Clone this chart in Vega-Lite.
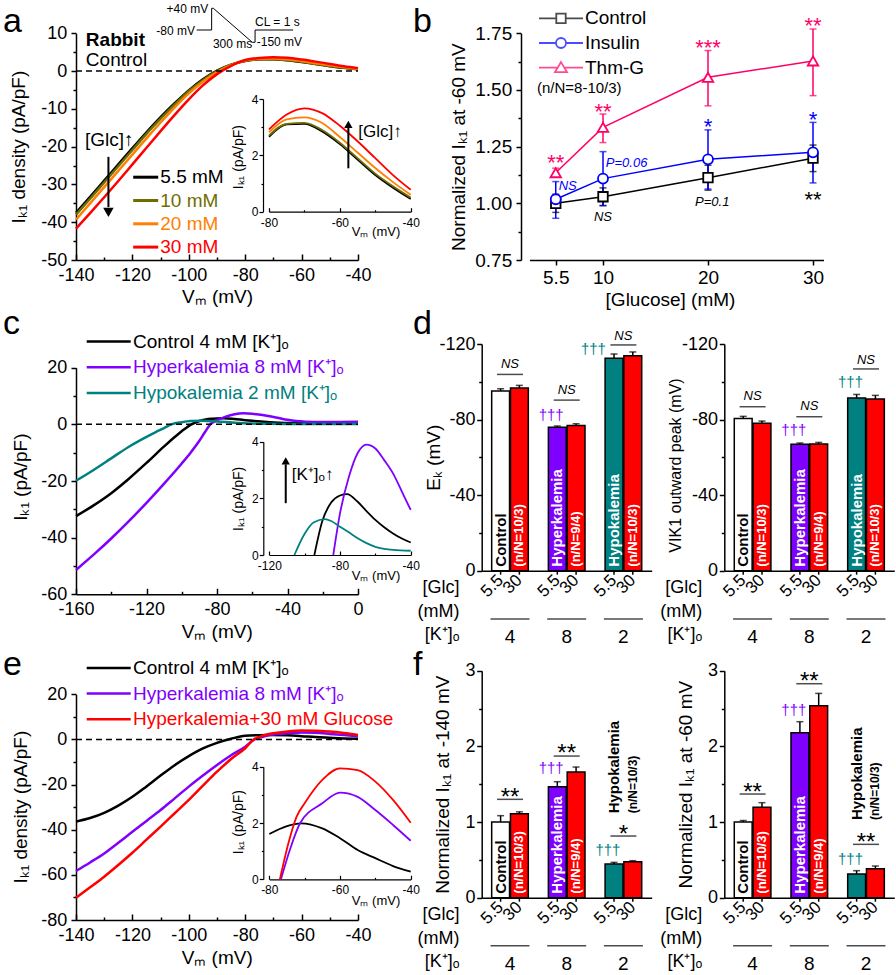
{
"$schema":"https://vega.github.io/schema/vega-lite/v6.json",
"width":896,"height":975,"autosize":{"type":"none"},"padding":0,
"background":"white",
"config":{"font":"Liberation Sans","view":{"stroke":null},
"axis":{"domainColor":"#000","domainWidth":1.5,"tickColor":"#000","tickWidth":1.5,"labelColor":"#000","titleColor":"#000","grid":false,"labelFont":"Liberation Sans","titleFont":"Liberation Sans","titleFontWeight":"normal","labelFontSize":19,"titleFontSize":19,"labelOverlap":false,"labelFlush":false,"labelBound":false},
"legend":{"labelFont":"Liberation Sans","padding":0},
"scale":{"nice":false},
"text":{"color":"#000"}},
"datasets":{
"a":[
{"V":-140,"I":-37.5,"g":"5.5 mM"},{"V":-135,"I":-33.3,"g":"5.5 mM"},{"V":-130,"I":-29.0,"g":"5.5 mM"},{"V":-125,"I":-24.7,"g":"5.5 mM"},{"V":-120,"I":-20.4,"g":"5.5 mM"},{"V":-115,"I":-16.2,"g":"5.5 mM"},{"V":-110,"I":-12.2,"g":"5.5 mM"},{"V":-105,"I":-8.5,"g":"5.5 mM"},{"V":-100,"I":-5.1,"g":"5.5 mM"},{"V":-95,"I":-2.2,"g":"5.5 mM"},{"V":-90,"I":0.1,"g":"5.5 mM"},{"V":-85,"I":1.7,"g":"5.5 mM"},{"V":-80,"I":2.66,"g":"5.5 mM"},{"V":-75,"I":3.1,"g":"5.5 mM"},{"V":-70,"I":3.12,"g":"5.5 mM"},{"V":-65,"I":2.85,"g":"5.5 mM"},{"V":-60,"I":2.4,"g":"5.5 mM"},{"V":-55,"I":1.85,"g":"5.5 mM"},{"V":-50,"I":1.3,"g":"5.5 mM"},{"V":-45,"I":0.85,"g":"5.5 mM"},{"V":-40,"I":0.45,"g":"5.5 mM"},
{"V":-140,"I":-38.0,"g":"10 mM"},{"V":-135,"I":-33.8,"g":"10 mM"},{"V":-130,"I":-29.5,"g":"10 mM"},{"V":-125,"I":-25.2,"g":"10 mM"},{"V":-120,"I":-20.9,"g":"10 mM"},{"V":-115,"I":-16.6,"g":"10 mM"},{"V":-110,"I":-12.6,"g":"10 mM"},{"V":-105,"I":-8.8,"g":"10 mM"},{"V":-100,"I":-5.3,"g":"10 mM"},{"V":-95,"I":-2.4,"g":"10 mM"},{"V":-90,"I":0.0,"g":"10 mM"},{"V":-85,"I":1.7,"g":"10 mM"},{"V":-80,"I":2.7,"g":"10 mM"},{"V":-75,"I":3.12,"g":"10 mM"},{"V":-70,"I":3.15,"g":"10 mM"},{"V":-65,"I":2.9,"g":"10 mM"},{"V":-60,"I":2.45,"g":"10 mM"},{"V":-55,"I":1.9,"g":"10 mM"},{"V":-50,"I":1.35,"g":"10 mM"},{"V":-45,"I":0.9,"g":"10 mM"},{"V":-40,"I":0.5,"g":"10 mM"},
{"V":-140,"I":-39.3,"g":"20 mM"},{"V":-135,"I":-35.0,"g":"20 mM"},{"V":-130,"I":-30.7,"g":"20 mM"},{"V":-125,"I":-26.4,"g":"20 mM"},{"V":-120,"I":-22.1,"g":"20 mM"},{"V":-115,"I":-17.8,"g":"20 mM"},{"V":-110,"I":-13.6,"g":"20 mM"},{"V":-105,"I":-9.6,"g":"20 mM"},{"V":-100,"I":-5.9,"g":"20 mM"},{"V":-95,"I":-2.8,"g":"20 mM"},{"V":-90,"I":-0.3,"g":"20 mM"},{"V":-85,"I":1.6,"g":"20 mM"},{"V":-80,"I":2.82,"g":"20 mM"},{"V":-75,"I":3.28,"g":"20 mM"},{"V":-70,"I":3.35,"g":"20 mM"},{"V":-65,"I":3.15,"g":"20 mM"},{"V":-60,"I":2.65,"g":"20 mM"},{"V":-55,"I":2.1,"g":"20 mM"},{"V":-50,"I":1.55,"g":"20 mM"},{"V":-45,"I":1.05,"g":"20 mM"},{"V":-40,"I":0.6,"g":"20 mM"},
{"V":-140,"I":-41.7,"g":"30 mM"},{"V":-135,"I":-37.6,"g":"30 mM"},{"V":-130,"I":-33.4,"g":"30 mM"},{"V":-125,"I":-29.1,"g":"30 mM"},{"V":-120,"I":-24.7,"g":"30 mM"},{"V":-115,"I":-20.3,"g":"30 mM"},{"V":-110,"I":-15.9,"g":"30 mM"},{"V":-105,"I":-11.6,"g":"30 mM"},{"V":-100,"I":-7.5,"g":"30 mM"},{"V":-95,"I":-3.8,"g":"30 mM"},{"V":-90,"I":-0.8,"g":"30 mM"},{"V":-85,"I":1.4,"g":"30 mM"},{"V":-80,"I":2.92,"g":"30 mM"},{"V":-75,"I":3.45,"g":"30 mM"},{"V":-70,"I":3.67,"g":"30 mM"},{"V":-65,"I":3.5,"g":"30 mM"},{"V":-60,"I":3.05,"g":"30 mM"},{"V":-55,"I":2.5,"g":"30 mM"},{"V":-50,"I":1.9,"g":"30 mM"},{"V":-45,"I":1.3,"g":"30 mM"},{"V":-40,"I":0.78,"g":"30 mM"}],
"wave":[{"i":0,"x":-97.2,"y":10.87},{"i":1,"x":-91.9,"y":10.87},{"i":2,"x":-91.9,"y":16.62},{"i":3,"x":-91.3,"y":16.62},{"i":4,"x":-77.5,"y":7.62},{"i":5,"x":-76.5,"y":7.62},{"i":6,"x":-76.5,"y":10.87},{"i":7,"x":-63.0,"y":10.87}],
"b":[
{"g":5.5,"s":"Control","m":1.0,"lo":0.96,"hi":1.04},{"g":10,"s":"Control","m":1.029,"lo":0.99,"hi":1.068},{"g":20,"s":"Control","m":1.113,"lo":1.058,"hi":1.168},{"g":30,"s":"Control","m":1.199,"lo":1.14,"hi":1.257},
{"g":5.5,"s":"Insulin","m":1.018,"lo":0.934,"hi":1.096},{"g":10,"s":"Insulin","m":1.109,"lo":0.99,"hi":1.228},{"g":20,"s":"Insulin","m":1.194,"lo":1.063,"hi":1.324},{"g":30,"s":"Insulin","m":1.225,"lo":1.09,"hi":1.357},
{"g":5.5,"s":"Thm-G","m":1.135,"lo":1.115,"hi":1.155},{"g":10,"s":"Thm-G","m":1.335,"lo":1.268,"hi":1.394},{"g":20,"s":"Thm-G","m":1.556,"lo":1.43,"hi":1.674},{"g":30,"s":"Thm-G","m":1.628,"lo":1.475,"hi":1.769}],
"bstar":[{"x":5.5,"y":1.205,"t":"**","s":"Thm-G"},{"x":10,"y":1.43,"t":"**","s":"Thm-G"},{"x":20,"y":1.71,"t":"***","s":"Thm-G"},{"x":30,"y":1.81,"t":"**","s":"Thm-G"},{"x":20,"y":1.365,"t":"*","s":"Insulin"},{"x":30,"y":1.395,"t":"*","s":"Insulin"},{"x":30,"y":1.04,"t":"**","s":"Control"}],
"bital":[{"x":6.64,"y":1.078,"t":"NS","s":"Insulin"},{"x":12.25,"y":1.176,"t":"P=0.06","s":"Insulin"},{"x":10,"y":0.941,"t":"NS","s":"Control"},{"x":20.4,"y":1.004,"t":"P=0.1","s":"Control"}],
"c":[
{"V":-160,"I":-32.4,"k":"Control"},{"V":-150,"I":-28.6,"k":"Control"},{"V":-140,"I":-24.3,"k":"Control"},{"V":-130,"I":-19.2,"k":"Control"},{"V":-120,"I":-13.6,"k":"Control"},{"V":-110,"I":-7.8,"k":"Control"},{"V":-105,"I":-5.0,"k":"Control"},{"V":-100,"I":-2.4,"k":"Control"},{"V":-94.5,"I":0,"k":"Control"},{"V":-90,"I":1.2,"k":"Control"},{"V":-85,"I":1.85,"k":"Control"},{"V":-80,"I":2.1,"k":"Control"},{"V":-76,"I":2.15,"k":"Control"},{"V":-70,"I":1.88,"k":"Control"},{"V":-65,"I":1.55,"k":"Control"},{"V":-60,"I":1.24,"k":"Control"},{"V":-55,"I":0.98,"k":"Control"},{"V":-50,"I":0.76,"k":"Control"},{"V":-45,"I":0.58,"k":"Control"},{"V":-40,"I":0.44,"k":"Control"},{"V":-30,"I":0.35,"k":"Control"},{"V":-20,"I":0.3,"k":"Control"},{"V":-10,"I":0.3,"k":"Control"},{"V":0,"I":0.3,"k":"Control"},
{"V":-160,"I":-51.4,"k":"Hyperkalemia"},{"V":-150,"I":-46.0,"k":"Hyperkalemia"},{"V":-140,"I":-40.3,"k":"Hyperkalemia"},{"V":-130,"I":-34.2,"k":"Hyperkalemia"},{"V":-120,"I":-27.7,"k":"Hyperkalemia"},{"V":-110,"I":-20.9,"k":"Hyperkalemia"},{"V":-100,"I":-13.8,"k":"Hyperkalemia"},{"V":-95,"I":-10.0,"k":"Hyperkalemia"},{"V":-90,"I":-5.8,"k":"Hyperkalemia"},{"V":-87,"I":-2.9,"k":"Hyperkalemia"},{"V":-83.8,"I":0,"k":"Hyperkalemia"},{"V":-80,"I":1.47,"k":"Hyperkalemia"},{"V":-75,"I":2.75,"k":"Hyperkalemia"},{"V":-70,"I":3.6,"k":"Hyperkalemia"},{"V":-65,"I":3.9,"k":"Hyperkalemia"},{"V":-60,"I":3.76,"k":"Hyperkalemia"},{"V":-55,"I":3.35,"k":"Hyperkalemia"},{"V":-50,"I":2.88,"k":"Hyperkalemia"},{"V":-45,"I":2.24,"k":"Hyperkalemia"},{"V":-40,"I":1.59,"k":"Hyperkalemia"},{"V":-35,"I":1.15,"k":"Hyperkalemia"},{"V":-30,"I":0.95,"k":"Hyperkalemia"},{"V":-20,"I":0.85,"k":"Hyperkalemia"},{"V":-10,"I":0.85,"k":"Hyperkalemia"},{"V":0,"I":0.9,"k":"Hyperkalemia"},
{"V":-160,"I":-19.9,"k":"Hypokalemia"},{"V":-150,"I":-16.1,"k":"Hypokalemia"},{"V":-140,"I":-12.0,"k":"Hypokalemia"},{"V":-130,"I":-7.9,"k":"Hypokalemia"},{"V":-120,"I":-4.4,"k":"Hypokalemia"},{"V":-115,"I":-2.8,"k":"Hypokalemia"},{"V":-110,"I":-1.3,"k":"Hypokalemia"},{"V":-105.8,"I":0,"k":"Hypokalemia"},{"V":-100,"I":0.75,"k":"Hypokalemia"},{"V":-95,"I":1.15,"k":"Hypokalemia"},{"V":-88.5,"I":1.27,"k":"Hypokalemia"},{"V":-85,"I":1.2,"k":"Hypokalemia"},{"V":-80,"I":1.0,"k":"Hypokalemia"},{"V":-75,"I":0.8,"k":"Hypokalemia"},{"V":-70,"I":0.59,"k":"Hypokalemia"},{"V":-65,"I":0.42,"k":"Hypokalemia"},{"V":-60,"I":0.29,"k":"Hypokalemia"},{"V":-55,"I":0.22,"k":"Hypokalemia"},{"V":-50,"I":0.18,"k":"Hypokalemia"},{"V":-40,"I":0.15,"k":"Hypokalemia"},{"V":-30,"I":0.15,"k":"Hypokalemia"},{"V":-20,"I":0.15,"k":"Hypokalemia"},{"V":-10,"I":0.15,"k":"Hypokalemia"},{"V":0,"I":0.15,"k":"Hypokalemia"}],
"e":[
{"V":-140,"I":-36.4,"k":"Control"},{"V":-135,"I":-34.8,"k":"Control"},{"V":-130,"I":-32.5,"k":"Control"},{"V":-125,"I":-29.3,"k":"Control"},{"V":-120,"I":-25.4,"k":"Control"},{"V":-115,"I":-20.8,"k":"Control"},{"V":-110,"I":-16.0,"k":"Control"},{"V":-105,"I":-11.4,"k":"Control"},{"V":-100,"I":-7.4,"k":"Control"},{"V":-95,"I":-4.0,"k":"Control"},{"V":-90,"I":-1.5,"k":"Control"},{"V":-85,"I":0.3,"k":"Control"},{"V":-80,"I":1.61,"k":"Control"},{"V":-75,"I":1.89,"k":"Control"},{"V":-71,"I":1.99,"k":"Control"},{"V":-65,"I":1.81,"k":"Control"},{"V":-60,"I":1.46,"k":"Control"},{"V":-55,"I":1.04,"k":"Control"},{"V":-50,"I":0.75,"k":"Control"},{"V":-45,"I":0.47,"k":"Control"},{"V":-40,"I":0.27,"k":"Control"},
{"V":-140,"I":-58.3,"k":"Hyperkalemia"},{"V":-135,"I":-54.5,"k":"Hyperkalemia"},{"V":-130,"I":-50.5,"k":"Hyperkalemia"},{"V":-125,"I":-45.8,"k":"Hyperkalemia"},{"V":-120,"I":-40.9,"k":"Hyperkalemia"},{"V":-115,"I":-36.1,"k":"Hyperkalemia"},{"V":-110,"I":-31.3,"k":"Hyperkalemia"},{"V":-105,"I":-26.1,"k":"Hyperkalemia"},{"V":-100,"I":-20.9,"k":"Hyperkalemia"},{"V":-95,"I":-16.0,"k":"Hyperkalemia"},{"V":-90,"I":-11.3,"k":"Hyperkalemia"},{"V":-85,"I":-7.0,"k":"Hyperkalemia"},{"V":-80,"I":-3.2,"k":"Hyperkalemia"},{"V":-76.7,"I":0,"k":"Hyperkalemia"},{"V":-74.2,"I":1.04,"k":"Hyperkalemia"},{"V":-71.3,"I":1.99,"k":"Hyperkalemia"},{"V":-65,"I":2.7,"k":"Hyperkalemia"},{"V":-60,"I":3.08,"k":"Hyperkalemia"},{"V":-55,"I":2.93,"k":"Hyperkalemia"},{"V":-50,"I":2.46,"k":"Hyperkalemia"},{"V":-45,"I":1.93,"k":"Hyperkalemia"},{"V":-40,"I":1.37,"k":"Hyperkalemia"},
{"V":-140,"I":-70.1,"k":"Hyperkalemia+30 mM Glucose"},{"V":-135,"I":-65.5,"k":"Hyperkalemia+30 mM Glucose"},{"V":-130,"I":-60.8,"k":"Hyperkalemia+30 mM Glucose"},{"V":-125,"I":-55.6,"k":"Hyperkalemia+30 mM Glucose"},{"V":-120,"I":-50.2,"k":"Hyperkalemia+30 mM Glucose"},{"V":-115,"I":-44.4,"k":"Hyperkalemia+30 mM Glucose"},{"V":-110,"I":-38.6,"k":"Hyperkalemia+30 mM Glucose"},{"V":-105,"I":-32.7,"k":"Hyperkalemia+30 mM Glucose"},{"V":-100,"I":-26.8,"k":"Hyperkalemia+30 mM Glucose"},{"V":-95,"I":-20.5,"k":"Hyperkalemia+30 mM Glucose"},{"V":-90,"I":-14.3,"k":"Hyperkalemia+30 mM Glucose"},{"V":-85,"I":-8.7,"k":"Hyperkalemia+30 mM Glucose"},{"V":-80,"I":-3.9,"k":"Hyperkalemia+30 mM Glucose"},{"V":-77,"I":0,"k":"Hyperkalemia+30 mM Glucose"},{"V":-74.6,"I":1.28,"k":"Hyperkalemia+30 mM Glucose"},{"V":-72.3,"I":2.22,"k":"Hyperkalemia+30 mM Glucose"},{"V":-70,"I":2.7,"k":"Hyperkalemia+30 mM Glucose"},{"V":-65,"I":3.53,"k":"Hyperkalemia+30 mM Glucose"},{"V":-60,"I":3.94,"k":"Hyperkalemia+30 mM Glucose"},{"V":-55,"I":3.88,"k":"Hyperkalemia+30 mM Glucose"},{"V":-50,"I":3.47,"k":"Hyperkalemia+30 mM Glucose"},{"V":-45,"I":2.82,"k":"Hyperkalemia+30 mM Glucose"},{"V":-40,"I":2.01,"k":"Hyperkalemia+30 mM Glucose"}],
"d1":[{"K":"4","glc":"5.5","v":-95.1,"cap":-96.3,"lab":"Control"},{"K":"4","glc":"30","v":-96.7,"cap":-98.1,"lab":"(n/N=10/3)"},{"K":"8","glc":"5.5","v":-75.9,"cap":-76.6,"lab":"Hyperkalemia"},{"K":"8","glc":"30","v":-76.9,"cap":-77.8,"lab":"(n/N=9/4)"},{"K":"2","glc":"5.5","v":-112.4,"cap":-114.7,"lab":"Hypokalemia"},{"K":"2","glc":"30","v":-113.8,"cap":-115.8,"lab":"(n/N=10/3)"}],
"d2":[{"K":"4","glc":"5.5","v":-80.5,"cap":-81.7,"lab":"Control"},{"K":"4","glc":"30","v":-78.0,"cap":-79.2,"lab":"(n/N=10/3)"},{"K":"8","glc":"5.5","v":-66.9,"cap":-67.6,"lab":"Hyperkalemia"},{"K":"8","glc":"30","v":-67.1,"cap":-67.9,"lab":"(n/N=9/4)"},{"K":"2","glc":"5.5","v":-91.4,"cap":-93.3,"lab":"Hypokalemia"},{"K":"2","glc":"30","v":-90.9,"cap":-92.8,"lab":"(n/N=10/3)"}],
"f1":[{"K":"4","glc":"5.5","v":1.0,"cap":1.084,"lab":"Control"},{"K":"4","glc":"30","v":1.11,"cap":1.135,"lab":"(n/N=10/3)"},{"K":"8","glc":"5.5","v":1.467,"cap":1.533,"lab":"Hyperkalemia"},{"K":"8","glc":"30","v":1.661,"cap":1.727,"lab":"(n/N=9/4)"},{"K":"2","glc":"5.5","v":0.445,"cap":0.467,"lab":""},{"K":"2","glc":"30","v":0.476,"cap":0.489,"lab":""}],
"f2":[{"K":"4","glc":"5.5","v":1.0,"cap":1.02,"lab":"Control"},{"K":"4","glc":"30","v":1.194,"cap":1.256,"lab":"(n/N=10/3)"},{"K":"8","glc":"5.5","v":2.18,"cap":2.326,"lab":"Hyperkalemia"},{"K":"8","glc":"30","v":2.537,"cap":2.70,"lab":"(n/N=9/4)"},{"K":"2","glc":"5.5","v":0.313,"cap":0.357,"lab":""},{"K":"2","glc":"30","v":0.383,"cap":0.419,"lab":""}],
"fh":[{"K":"2","glc":"5.5","lab":"Hypokalemia"},{"K":"2","glc":"30","lab":"(n/N=10/3)"}],
"grp":[{"K":"4"},{"K":"8"},{"K":"2"}],
"d1n":[{"K":"4","by":-103.9,"ty":-109.2,"t":"NS"},{"K":"8","by":-90.3,"ty":-95.6,"t":"NS"},{"K":"2","by":-119.5,"ty":-124.2,"t":"NS"}],
"d2n":[{"K":"4","by":-86.8,"ty":-92.5,"t":"NS"},{"K":"8","by":-81.5,"ty":-87.2,"t":"NS"},{"K":"2","by":-106.8,"ty":-111.5,"t":"NS"}],
"f1n":[{"K":"4","by":1.30,"ty":1.40,"t":"**"},{"K":"8","by":1.872,"ty":1.98,"t":"**"},{"K":"2","by":0.815,"ty":0.907,"t":"*"}],
"f2n":[{"K":"4","by":1.37,"ty":1.467,"t":"**"},{"K":"8","by":2.828,"ty":2.93,"t":"**"},{"K":"2","by":0.705,"ty":0.806,"t":"**"}],
"d1g":[{"K":"8","y":-82.4}],
"d1gt":[{"K":"2","y":-117.2}],
"d2g":[{"K":"8","y":-74.5},{"K":"2","y":-100}],
"f1g":[{"K":"8","y":1.709},{"K":"2","y":0.63}],
"f2g":[{"K":"8","y":2.48},{"K":"2","y":0.507}]
},
"resolve":{"scale":{"x":"independent","y":"independent","color":"independent","fill":"independent","stroke":"independent","shape":"independent","size":"independent","xOffset":"independent"},"axis":{"x":"independent","y":"independent"}},
"layer":[
 {"resolve":{"scale":{"x":"independent","y":"independent"},"axis":{"x":"independent","y":"independent"}},
  "layer":[
   {"layer":[
    {"data":{"name":"a"},"mark":{"type":"line","strokeWidth":2.5,"interpolate":"monotone"},
     "encoding":{
      "x":{"field":"V","type":"quantitative","scale":{"domain":[-140,-40],"range":[76,358],"nice":false},"axis":{"orient":"bottom","offset":-715,"values":[-140,-130,-120,-110,-100,-90,-80,-70,-60,-50,-40],"labelExpr":"datum.value % 20 === 0 ? '' + datum.value : ''","tickSize":{"condition":{"test":"datum.value % 20 !== 0","value":-3},"value":-6},"labelFontSize":18,"labelPadding":21,"labelBaseline":"middle","title":"Vₘ (mV)","titleX":217,"titleY":36.5,"titleBaseline":"middle"}},
      "y":{"field":"I","type":"quantitative","scale":{"domain":[-50,10],"range":[260,33.3],"nice":false},"axis":{"orient":"left","offset":-76,"values":[-50,-45,-40,-35,-30,-25,-20,-15,-10,-5,0,5,10],"labelExpr":"datum.value % 10 === 0 ? '' + datum.value : ''","tickSize":{"condition":{"test":"datum.value % 10 !== 0","value":3},"value":5},"labelFontSize":18,"labelPadding":4.3,"title":"Iₖ₁ density (pA/pF)","titleX":-58,"titleY":146.6,"titleBaseline":"middle"}},
      "color":{"field":"g","type":"nominal","scale":{"domain":["5.5 mM","10 mM","20 mM","30 mM"],"range":["#000000","#6e6e00","#ff8000","#ff0000"]},
       "legend":{"title":null,"orient":"none","legendX":134.2,"legendY":165.7,"symbolType":"M-1.25,0H1.25","symbolSize":400,"symbolStrokeWidth":3,"labelFontSize":19,"labelOffset":3.1,"rowPadding":1.3,"padding":0,
        "encode":{"labels":{"update":{"fill":{"signal":"datum.value === '10 mM' ? '#6e6e00' : datum.value === '20 mM' ? '#ff8000' : datum.value === '30 mM' ? '#ff0000' : '#000000'"}}}}}}
     }},
    {"data":{"values":[{}]},"mark":{"type":"rule","strokeDash":[6,4],"strokeWidth":1.5,"color":"#000"},"encoding":{"x":{"datum":-140},"x2":{"datum":-40},"y":{"datum":0}}},
    {"data":{"name":"wave"},"mark":{"type":"line","strokeWidth":1,"color":"#000","interpolate":"linear"},"encoding":{"x":{"field":"x","type":"quantitative"},"y":{"field":"y","type":"quantitative"},"order":{"field":"i"}}},
    {"data":{"values":[{"x":-93.1,"y":16.43,"t":"+40 mV"},{"x":-97.8,"y":10.69,"t":"-80 mV"},{"x":-77.5,"y":7.09,"t":"300 ms"}]},"mark":{"type":"text","align":"right","baseline":"middle","fontSize":12},"encoding":{"x":{"field":"x","type":"quantitative"},"y":{"field":"y","type":"quantitative"},"text":{"field":"t"}}},
    {"data":{"values":[{"x":-75.9,"y":7.6,"t":"-150 mV"},{"x":-76.5,"y":13.07,"t":"CL = 1 s"}]},"mark":{"type":"text","align":"left","baseline":"middle","fontSize":12},"encoding":{"x":{"field":"x","type":"quantitative"},"y":{"field":"y","type":"quantitative"},"text":{"field":"t"}}},
    {"data":{"values":[{"x":-136.5,"y":8.2,"t":"Rabbit"}]},"mark":{"type":"text","align":"left","baseline":"middle","fontSize":19,"fontWeight":"bold"},"encoding":{"x":{"field":"x","type":"quantitative"},"y":{"field":"y","type":"quantitative"},"text":{"field":"t"}}},
    {"data":{"values":[{"x":-136.5,"y":2.93,"t":"Control"},{"x":-136.8,"y":-18.2,"t":"[Glc]↑"}]},"mark":{"type":"text","align":"left","baseline":"middle","fontSize":19},"encoding":{"x":{"field":"x","type":"quantitative"},"y":{"field":"y","type":"quantitative"},"text":{"field":"t"}}},
    {"data":{"values":[{}]},"mark":{"type":"rule","strokeWidth":2,"color":"#000"},"encoding":{"x":{"datum":-128.5},"y":{"datum":-22.7},"y2":{"datum":-36}}},
    {"data":{"values":[{}]},"mark":{"type":"point","shape":"triangle-down","filled":true,"color":"#000","size":110,"opacity":1},"encoding":{"x":{"datum":-128.5},"y":{"datum":-37.4}}},
    {"data":{"values":[{"x":-165.9,"y":10.45,"t":"a"},{"x":-20.5,"y":10.45,"t":"b"}]},"mark":{"type":"text","align":"left","baseline":"alphabetic","fontSize":34},"encoding":{"x":{"field":"x","type":"quantitative"},"y":{"field":"y","type":"quantitative"},"text":{"field":"t"}}}
   ]},
   {"layer":[
    {"data":{"name":"a"},"transform":[{"filter":"datum.V >= -80"}],"mark":{"type":"line","strokeWidth":1.8,"interpolate":"monotone"},
     "encoding":{
      "x":{"field":"V","type":"quantitative","scale":{"domain":[-80,-40],"range":[269,410.7],"nice":false},"axis":{"orient":"bottom","offset":-763.3,"values":[-80,-70,-60,-50,-40],"labelExpr":"datum.value % 20 === 0 ? '' + datum.value : ''","tickSize":{"condition":{"test":"datum.value % 20 !== 0","value":-2},"value":-4},"labelFontSize":12,"labelPadding":14.4,"labelBaseline":"middle","domainWidth":1.2,"tickWidth":1.2,"title":"Vₘ (mV)","titleFontSize":13,"titleX":375.5,"titleY":20,"titleBaseline":"middle"}},
      "y":{"field":"I","type":"quantitative","scale":{"domain":[0,4],"range":[211.7,99],"nice":false},"axis":{"orient":"left","offset":-263,"values":[0,1,2,3,4],"labelExpr":"datum.value % 2 === 0 ? '' + datum.value : ''","tickSize":{"condition":{"test":"datum.value % 2 !== 0","value":2},"value":4},"labelFontSize":12,"labelPadding":1,"domainWidth":1.2,"tickWidth":1.2,"title":"Iₖ₁ (pA/pF)","titleFontSize":14,"titleX":-25,"titleY":156.7,"titleBaseline":"middle"}},
      "color":{"field":"g","type":"nominal","legend":null}
     }},
    {"data":{"values":[{}]},"mark":{"type":"rule","strokeWidth":2,"color":"#000"},"encoding":{"x":{"datum":-57.6},"y":{"datum":1.54},"y2":{"datum":3.0}}},
    {"data":{"values":[{}]},"mark":{"type":"point","shape":"triangle-up","filled":true,"color":"#000","size":70,"opacity":1},"encoding":{"x":{"datum":-57.6},"y":{"datum":3.1}}},
    {"data":{"values":[{"x":-54.8,"y":2.84,"t":"[Glc]↑"}]},"mark":{"type":"text","align":"left","baseline":"middle","fontSize":17},"encoding":{"x":{"field":"x","type":"quantitative"},"y":{"field":"y","type":"quantitative"},"text":{"field":"t"}}}
   ]}
  ]},
 {"resolve":{"scale":{"stroke":"independent","shape":"independent"}},
  "layer":[
   {"data":{"name":"b"},"layer":[
    {"mark":{"type":"line","strokeWidth":1.5},"encoding":{
     "x":{"field":"g","type":"quantitative","scale":{"domain":[3,31],"range":[529.5,823.5],"nice":false,"zero":false},"axis":{"orient":"bottom","offset":-715,"values":[5.5,10,20,30],"labelExpr":"'' + datum.value","tickSize":5,"labelPadding":12.1,"labelBaseline":"middle","title":"[Glucose] (mM)","titleX":670,"titleY":39.3,"titleBaseline":"middle"}},
     "y":{"field":"m","type":"quantitative","scale":{"domain":[0.75,1.75],"range":[260,33.3],"nice":false,"zero":false},"axis":{"orient":"left","offset":-521,"values":[0.75,0.875,1,1.125,1.25,1.375,1.5,1.625,1.75],"labelExpr":"(datum.value * 4) % 1 === 0 ? format(datum.value, '.2f') : ''","tickSize":{"condition":{"test":"(datum.value * 4) % 1 !== 0","value":3},"value":5},"labelPadding":4.3,"title":"Normalized Iₖ₁ at -60 mV","titleX":-62.7,"titleY":146.6,"titleBaseline":"middle"}},
     "stroke":{"field":"s","type":"nominal","scale":{"domain":["Control","Insulin","Thm-G"],"range":["#000000","#0000ff","#ff0066"]},"legend":null}}},
    {"mark":{"type":"rule","strokeWidth":1.5},"encoding":{"x":{"field":"g","type":"quantitative"},"y":{"field":"lo","type":"quantitative"},"y2":{"field":"hi"},"stroke":{"field":"s","type":"nominal","legend":null}}},
    {"mark":{"type":"tick","orient":"horizontal","size":7,"thickness":1.5},"encoding":{"x":{"field":"g","type":"quantitative"},"y":{"field":"lo","type":"quantitative"},"color":{"field":"s","type":"nominal","scale":{"domain":["Control","Insulin","Thm-G"],"range":["#000000","#0000ff","#ff0066"]},"legend":null}}},
    {"mark":{"type":"tick","orient":"horizontal","size":7,"thickness":1.5},"encoding":{"x":{"field":"g","type":"quantitative"},"y":{"field":"hi","type":"quantitative"},"color":{"field":"s","type":"nominal","legend":null}}},
    {"mark":{"type":"point","filled":true,"fill":"white","strokeWidth":1.8,"opacity":1},"encoding":{"x":{"field":"g","type":"quantitative"},"y":{"field":"m","type":"quantitative"},"stroke":{"field":"s","type":"nominal","legend":null},
     "shape":{"field":"s","type":"nominal","scale":{"domain":["Control","Insulin","Thm-G"],"range":["square","circle","triangle-up"]},"legend":null},
     "size":{"field":"s","type":"nominal","scale":{"domain":["Control","Insulin","Thm-G"],"range":[90,110,160]},"legend":null}}}
   ]},
   {"data":{"name":"bstar"},"mark":{"type":"text","fontSize":22,"baseline":"middle","dy":6},"encoding":{"x":{"field":"x","type":"quantitative"},"y":{"field":"y","type":"quantitative"},"text":{"field":"t"},"color":{"field":"s","type":"nominal","legend":null}}},
   {"data":{"name":"bital"},"mark":{"type":"text","fontSize":13,"fontStyle":"italic","baseline":"middle"},"encoding":{"x":{"field":"x","type":"quantitative"},"y":{"field":"y","type":"quantitative"},"text":{"field":"t"},"color":{"field":"s","type":"nominal","legend":null}}},
   {"data":{"values":[{"x":3.71,"y":1.509,"t":"(n/N=8-10/3)"}]},"mark":{"type":"text","fontSize":15,"align":"left","baseline":"middle","color":"#000"},"encoding":{"x":{"field":"x","type":"quantitative"},"y":{"field":"y","type":"quantitative"},"text":{"field":"t"}}},
   {"data":{"values":[]},"mark":{"type":"point","filled":false,"strokeWidth":1.8},"encoding":{
    "stroke":{"field":"s","type":"nominal","scale":{"domain":["Control","Insulin","Thm-G"],"range":["#000000","#0000ff","#ff0066"]},
     "legend":{"title":null,"orient":"none","legendX":550,"legendY":7.4,"symbolSize":400,"symbolStrokeWidth":1.8,"labelFontSize":19,"labelOffset":13,"rowPadding":3.6,"padding":0,
      "encode":{"labels":{"update":{"fill":{"signal":"datum.value === 'Insulin' ? '#0000ff' : datum.value === 'Thm-G' ? '#ff0066' : '#000000'"}}}}}},
    "shape":{"field":"s","type":"nominal","scale":{"domain":["Control","Insulin","Thm-G"],"range":["M-2.2,0H-0.47M0.47,0H2.2M-0.47,-0.47H0.47V0.47H-0.47Z","M-2.2,0H-0.5M0.5,0H2.2M0.5,0A0.5,0.5,0,1,1,-0.5,0A0.5,0.5,0,1,1,0.5,0Z","M-2.2,0H-0.33M0.33,0H2.2M0,-0.55L0.6,0.45L-0.6,0.45Z"]},
     "legend":{"title":null,"orient":"none","legendX":550,"legendY":7.4,"symbolSize":400,"symbolStrokeWidth":1.8,"labelFontSize":19,"labelOffset":13,"rowPadding":3.6,"padding":0}}
   }}
  ]},
 {"resolve":{"scale":{"x":"independent","y":"independent"},"axis":{"x":"independent","y":"independent"}},
  "layer":[
   {"layer":[
    {"data":{"name":"c"},"mark":{"type":"line","strokeWidth":2.5,"interpolate":"monotone"},
     "encoding":{
      "x":{"field":"V","type":"quantitative","scale":{"domain":[-160,0],"range":[76,358],"nice":false},"axis":{"orient":"bottom","offset":-380.7,"values":[-160,-140,-120,-100,-80,-60,-40,-20,0],"labelExpr":"datum.value % 40 === 0 ? '' + datum.value : ''","tickSize":{"condition":{"test":"datum.value % 40 !== 0","value":-3},"value":-6},"labelFontSize":18,"labelPadding":21,"labelBaseline":"middle","title":"Vₘ (mV)","titleX":216.7,"titleY":37.5,"titleBaseline":"middle"}},
      "y":{"field":"I","type":"quantitative","scale":{"domain":[-60,20],"range":[594.3,367.7],"nice":false},"axis":{"orient":"left","offset":-76,"values":[-60,-50,-40,-30,-20,-10,0,10,20],"labelExpr":"datum.value % 20 === 0 ? '' + datum.value : ''","tickSize":{"condition":{"test":"datum.value % 20 !== 0","value":3},"value":5},"labelFontSize":18,"labelPadding":4.3,"title":"Iₖ₁ (pA/pF)","titleX":-56,"titleY":476.7,"titleBaseline":"middle"}},
      "color":{"field":"k","type":"nominal","scale":{"domain":["Control","Hyperkalemia","Hypokalemia"],"range":["#000000","#7f00ff","#008080"]},
       "legend":{"title":null,"orient":"none","legendX":97.2,"legendY":330,"symbolType":"M-2.2,0H2.2","symbolSize":400,"symbolStrokeWidth":2.5,"labelFontSize":19,"labelOffset":12.8,"rowPadding":3.7,"padding":0,"labelLimit":400,
        "labelExpr":"datum.value === 'Control' ? 'Control  4 mM [K⁺]ₒ' : datum.value === 'Hyperkalemia' ? 'Hyperkalemia  8 mM [K⁺]ₒ' : 'Hypokalemia  2 mM [K⁺]ₒ'",
        "encode":{"labels":{"update":{"fill":{"signal":"datum.value === 'Hyperkalemia' ? '#7f00ff' : datum.value === 'Hypokalemia' ? '#008080' : '#000000'"}}}}}}
     }},
    {"data":{"values":[{}]},"mark":{"type":"rule","strokeDash":[6,4],"strokeWidth":1.5,"color":"#000"},"encoding":{"x":{"datum":-160},"x2":{"datum":0},"y":{"datum":0}}},
    {"data":{"values":[{"x":-201.4,"y":31.9,"t":"c"},{"x":31.2,"y":31.9,"t":"d"}]},"mark":{"type":"text","align":"left","baseline":"alphabetic","fontSize":34},"encoding":{"x":{"field":"x","type":"quantitative"},"y":{"field":"y","type":"quantitative"},"text":{"field":"t"}}}
   ]},
   {"layer":[
    {"data":{"name":"c"},"transform":[{"filter":"datum.V >= -120 && datum.V <= -40 && datum.I >= 0"}],"mark":{"type":"line","strokeWidth":1.8,"interpolate":"monotone"},
     "encoding":{
      "x":{"field":"V","type":"quantitative","scale":{"domain":[-120,-40],"range":[269.3,410.7],"nice":false},"axis":{"orient":"bottom","offset":-420,"values":[-120,-100,-80,-60,-40],"labelExpr":"datum.value % 40 === 0 ? '' + datum.value : ''","tickSize":{"condition":{"test":"datum.value % 40 !== 0","value":-2},"value":-4},"labelFontSize":12,"labelPadding":14.4,"labelBaseline":"middle","domainWidth":1.2,"tickWidth":1.2,"title":"Vₘ (mV)","titleFontSize":13,"titleX":375.5,"titleY":20,"titleBaseline":"middle"}},
      "y":{"field":"I","type":"quantitative","scale":{"domain":[0,4],"range":[555,441.7],"nice":false},"axis":{"orient":"left","offset":-263.3,"values":[0,1,2,3,4],"labelExpr":"datum.value % 2 === 0 ? '' + datum.value : ''","tickSize":{"condition":{"test":"datum.value % 2 !== 0","value":2},"value":4},"labelFontSize":12,"labelPadding":1,"domainWidth":1.2,"tickWidth":1.2,"title":"Iₖ₁ (pA/pF)","titleFontSize":14,"titleX":-25,"titleY":498.3,"titleBaseline":"middle"}},
      "color":{"field":"k","type":"nominal","legend":null}
     }},
    {"data":{"values":[{}]},"mark":{"type":"rule","strokeWidth":2,"color":"#000"},"encoding":{"x":{"datum":-110.7},"y":{"datum":1.83},"y2":{"datum":3.2}}},
    {"data":{"values":[{}]},"mark":{"type":"point","shape":"triangle-up","filled":true,"color":"#000","size":70,"opacity":1},"encoding":{"x":{"datum":-110.7},"y":{"datum":3.32}}},
    {"data":{"values":[{"x":-107.3,"y":2.83,"t":"[K⁺]ₒ↑"}]},"mark":{"type":"text","align":"left","baseline":"middle","fontSize":17},"encoding":{"x":{"field":"x","type":"quantitative"},"y":{"field":"y","type":"quantitative"},"text":{"field":"t"}}}
   ]}
  ]},
 {"resolve":{"scale":{"x":"independent","y":"independent"},"axis":{"x":"independent","y":"independent"}},
  "layer":[
   {"layer":[
    {"data":{"name":"e"},"mark":{"type":"line","strokeWidth":2.5,"interpolate":"monotone"},
     "encoding":{
      "x":{"field":"V","type":"quantitative","scale":{"domain":[-140,-40],"range":[76,358],"nice":false},"axis":{"orient":"bottom","offset":-55,"values":[-140,-130,-120,-110,-100,-90,-80,-70,-60,-50,-40],"labelExpr":"datum.value % 20 === 0 ? '' + datum.value : ''","tickSize":{"condition":{"test":"datum.value % 20 !== 0","value":-3},"value":-6},"labelFontSize":18,"labelPadding":21,"labelBaseline":"middle","title":"Vₘ (mV)","titleX":216.7,"titleY":37.5,"titleBaseline":"middle"}},
      "y":{"field":"I","type":"quantitative","scale":{"domain":[-80,20],"range":[920,694.3],"nice":false},"axis":{"orient":"left","offset":-76,"values":[-80,-70,-60,-50,-40,-30,-20,-10,0,10,20],"labelExpr":"datum.value % 20 === 0 ? '' + datum.value : ''","tickSize":{"condition":{"test":"datum.value % 20 !== 0","value":3},"value":5},"labelFontSize":18,"labelPadding":4.3,"title":"Iₖ₁ density (pA/pF)","titleX":-56,"titleY":806.7,"titleBaseline":"middle"}},
      "color":{"field":"k","type":"nominal","scale":{"domain":["Control","Hyperkalemia","Hyperkalemia+30 mM Glucose"],"range":["#000000","#7f00ff","#ff0000"]},
       "legend":{"title":null,"orient":"none","legendX":97.2,"legendY":656.4,"symbolType":"M-2.2,0H2.2","symbolSize":400,"symbolStrokeWidth":2.5,"labelFontSize":19,"labelOffset":12.8,"rowPadding":3.7,"padding":0,"labelLimit":400,
        "labelExpr":"datum.value === 'Control' ? 'Control  4 mM [K⁺]ₒ' : datum.value === 'Hyperkalemia' ? 'Hyperkalemia  8 mM [K⁺]ₒ' : datum.label",
        "encode":{"labels":{"update":{"fill":{"signal":"datum.value === 'Hyperkalemia' ? '#7f00ff' : datum.value === 'Control' ? '#000000' : '#ff0000'"}}}}}}
     }},
    {"data":{"values":[{}]},"mark":{"type":"rule","strokeDash":[6,4],"strokeWidth":1.5,"color":"#000"},"encoding":{"x":{"datum":-140},"x2":{"datum":-40},"y":{"datum":0}}},
    {"data":{"values":[{"x":-165.9,"y":28.55,"t":"e"},{"x":-20.5,"y":28.55,"t":"f"}]},"mark":{"type":"text","align":"left","baseline":"alphabetic","fontSize":34},"encoding":{"x":{"field":"x","type":"quantitative"},"y":{"field":"y","type":"quantitative"},"text":{"field":"t"}}}
   ]},
   {"layer":[
    {"data":{"name":"e"},"transform":[{"filter":"datum.V >= -80 && datum.I >= 0"}],"mark":{"type":"line","strokeWidth":1.8,"interpolate":"monotone"},
     "encoding":{
      "x":{"field":"V","type":"quantitative","scale":{"domain":[-80,-40],"range":[269.3,410.7],"nice":false},"axis":{"orient":"bottom","offset":-95.7,"values":[-80,-70,-60,-50,-40],"labelExpr":"datum.value % 20 === 0 ? '' + datum.value : ''","tickSize":{"condition":{"test":"datum.value % 20 !== 0","value":-2},"value":-4},"labelFontSize":12,"labelPadding":14.4,"labelBaseline":"middle","domainWidth":1.2,"tickWidth":1.2,"title":"Vₘ (mV)","titleFontSize":13,"titleX":375.5,"titleY":20.7,"titleBaseline":"middle"}},
      "y":{"field":"I","type":"quantitative","scale":{"domain":[0,4],"range":[879.3,766.7],"nice":false},"axis":{"orient":"left","offset":-263.3,"values":[0,1,2,3,4],"labelExpr":"datum.value % 2 === 0 ? '' + datum.value : ''","tickSize":{"condition":{"test":"datum.value % 2 !== 0","value":2},"value":4},"labelFontSize":12,"labelPadding":1,"domainWidth":1.2,"tickWidth":1.2,"title":"Iₖ₁ (pA/pF)","titleFontSize":14,"titleX":-25,"titleY":821.7,"titleBaseline":"middle"}},
      "color":{"field":"k","type":"nominal","legend":null}
     }}
   ]}
  ]},
 {"data":{"name":"d1"},
  "layer":[
   {"mark":{"type":"bar","stroke":"#000","strokeWidth":1.5},"encoding":{
    "x":{"field":"K","type":"nominal","sort":null,"scale":{"domain":["4","8","2"],"range":[481.7,651.7],"paddingInner":0.354,"paddingOuter":0.176},"axis":{"orient":"bottom","offset":-404.3,"labelAngle":0,"ticks":false,"labelPadding":65.4,"labelBaseline":"middle","labelFontSize":19,"title":["[Glc]","(mM)","[K⁺]ₒ"],"titleFontSize":18,"titleX":459.1,"titleY":8,"titleAlign":"right","titleBaseline":"top","titleLineHeight":23.5}},
    "xOffset":{"field":"glc","type":"nominal","sort":null,"scale":{"domain":["5.5","30"],"paddingInner":0.05,"paddingOuter":0}},
    "y":{"field":"v","type":"quantitative","scale":{"domain":[0,-120],"range":[570.7,344],"nice":false},"axis":{"orient":"left","offset":-481.7,"values":[0,-20,-40,-60,-80,-100,-120],"labelExpr":"datum.value % 40 === 0 ? '' + datum.value : ''","tickSize":{"condition":{"test":"datum.value % 40 !== 0","value":3},"value":5},"labelPadding":1.7,"labelFontSize":18,"title":"Eₖ (mV)","titleX":-48.7,"titleY":457.3,"titleBaseline":"middle"}},
    "fill":{"condition":{"test":"datum.glc === '30'","value":"#ff0000"},"field":"K","type":"nominal","scale":{"domain":["4","8","2"],"range":["#ffffff","#7f00ff","#008080"]},"legend":null}}},
   {"mark":{"type":"rule","strokeWidth":1.5,"color":"#000"},"encoding":{"x":{"field":"K","type":"nominal"},"xOffset":{"field":"glc","type":"nominal"},"y":{"field":"v","type":"quantitative"},"y2":{"field":"cap"}}},
   {"mark":{"type":"tick","size":7,"thickness":1.5,"color":"#000"},"encoding":{"x":{"field":"K","type":"nominal"},"xOffset":{"field":"glc","type":"nominal"},"y":{"field":"cap","type":"quantitative"}}},
   {"mark":{"type":"text","angle":270,"align":"left","baseline":"middle","dx":4,"fontWeight":"bold"},"encoding":{"x":{"field":"K","type":"nominal"},"xOffset":{"field":"glc","type":"nominal"},"y":{"datum":0},"text":{"field":"lab"},"size":{"condition":{"test":"indexof(datum.lab, 'n/N') >= 0","value":13},"value":15},"color":{"condition":{"test":"datum.lab === 'Control'","value":"#000000"},"value":"#ffffff"}}},
   {"mark":{"type":"text","angle":315,"align":"right","baseline":"middle","fontSize":17},"encoding":{"x":{"field":"K","type":"nominal"},"xOffset":{"field":"glc","type":"nominal"},"y":{"datum":3.7},"text":{"field":"glc"}}},
   {"mark":{"type":"rule","strokeWidth":1.5,"color":"#000"},"encoding":{"x":{"field":"K","type":"nominal"},"xOffset":{"field":"glc","type":"nominal"},"y":{"datum":0},"y2":{"datum":2.1}}},
   {"data":{"name":"grp"},"mark":{"type":"tick","size":39,"thickness":1.5,"color":"#000"},"encoding":{"x":{"field":"K","type":"nominal"},"y":{"datum":25.6}}},
   {"data":{"name":"d1n"},"mark":{"type":"tick","size":26,"thickness":1.5,"color":"#000"},"encoding":{"x":{"field":"K","type":"nominal"},"y":{"field":"by","type":"quantitative"}}},
   {"data":{"name":"d1n"},"mark":{"type":"text","fontSize":13,"fontStyle":"italic","baseline":"middle"},"encoding":{"x":{"field":"K","type":"nominal"},"y":{"field":"ty","type":"quantitative"},"text":{"field":"t"}}},
   {"data":{"name":"d1g"},"mark":{"type":"text","fontSize":15,"baseline":"middle","dx":-15.5},"encoding":{"x":{"field":"K","type":"nominal"},"y":{"field":"y","type":"quantitative"},"text":{"value":"†††"},"color":{"condition":{"test":"datum.K === '8'","value":"#7f00ff"},"value":"#008080"}}},
   {"data":{"name":"d1gt"},"mark":{"type":"text","fontSize":15,"baseline":"middle","dx":-30},"encoding":{"x":{"field":"K","type":"nominal"},"y":{"field":"y","type":"quantitative"},"text":{"value":"†††"},"color":{"condition":{"test":"datum.K === '8'","value":"#7f00ff"},"value":"#008080"}}}
  ]},
 {"data":{"name":"d2"},
  "layer":[
   {"mark":{"type":"bar","stroke":"#000","strokeWidth":1.5},"encoding":{
    "x":{"field":"K","type":"nominal","sort":null,"scale":{"domain":["4","8","2"],"range":[724.3,894.3],"paddingInner":0.354,"paddingOuter":0.176},"axis":{"orient":"bottom","offset":-404.3,"labelAngle":0,"ticks":false,"labelPadding":65.4,"labelBaseline":"middle","labelFontSize":19,"title":["[Glc]","(mM)","[K⁺]ₒ"],"titleFontSize":18,"titleX":701.7,"titleY":8,"titleAlign":"right","titleBaseline":"top","titleLineHeight":23.5}},
    "xOffset":{"field":"glc","type":"nominal","sort":null,"scale":{"domain":["5.5","30"],"paddingInner":0.05,"paddingOuter":0}},
    "y":{"field":"v","type":"quantitative","scale":{"domain":[0,-120],"range":[570.7,344],"nice":false},"axis":{"orient":"left","offset":-724.3,"values":[0,-20,-40,-60,-80,-100,-120],"labelExpr":"datum.value % 40 === 0 ? '' + datum.value : ''","tickSize":{"condition":{"test":"datum.value % 40 !== 0","value":3},"value":5},"labelPadding":1.7,"labelFontSize":18,"title":"VIK1 outward peak (mV)","titleFontSize":16,"titleX":-49.3,"titleY":465,"titleBaseline":"middle"}},
    "fill":{"condition":{"test":"datum.glc === '30'","value":"#ff0000"},"field":"K","type":"nominal","scale":{"domain":["4","8","2"],"range":["#ffffff","#7f00ff","#008080"]},"legend":null}}},
   {"mark":{"type":"rule","strokeWidth":1.5,"color":"#000"},"encoding":{"x":{"field":"K","type":"nominal"},"xOffset":{"field":"glc","type":"nominal"},"y":{"field":"v","type":"quantitative"},"y2":{"field":"cap"}}},
   {"mark":{"type":"tick","size":7,"thickness":1.5,"color":"#000"},"encoding":{"x":{"field":"K","type":"nominal"},"xOffset":{"field":"glc","type":"nominal"},"y":{"field":"cap","type":"quantitative"}}},
   {"mark":{"type":"text","angle":270,"align":"left","baseline":"middle","dx":4,"fontWeight":"bold"},"encoding":{"x":{"field":"K","type":"nominal"},"xOffset":{"field":"glc","type":"nominal"},"y":{"datum":0},"text":{"field":"lab"},"size":{"condition":{"test":"indexof(datum.lab, 'n/N') >= 0","value":13},"value":15},"color":{"condition":{"test":"datum.lab === 'Control'","value":"#000000"},"value":"#ffffff"}}},
   {"mark":{"type":"text","angle":315,"align":"right","baseline":"middle","fontSize":17},"encoding":{"x":{"field":"K","type":"nominal"},"xOffset":{"field":"glc","type":"nominal"},"y":{"datum":3.7},"text":{"field":"glc"}}},
   {"mark":{"type":"rule","strokeWidth":1.5,"color":"#000"},"encoding":{"x":{"field":"K","type":"nominal"},"xOffset":{"field":"glc","type":"nominal"},"y":{"datum":0},"y2":{"datum":2.1}}},
   {"data":{"name":"grp"},"mark":{"type":"tick","size":39,"thickness":1.5,"color":"#000"},"encoding":{"x":{"field":"K","type":"nominal"},"y":{"datum":25.6}}},
   {"data":{"name":"d2n"},"mark":{"type":"tick","size":26,"thickness":1.5,"color":"#000"},"encoding":{"x":{"field":"K","type":"nominal"},"y":{"field":"by","type":"quantitative"}}},
   {"data":{"name":"d2n"},"mark":{"type":"text","fontSize":13,"fontStyle":"italic","baseline":"middle"},"encoding":{"x":{"field":"K","type":"nominal"},"y":{"field":"ty","type":"quantitative"},"text":{"field":"t"}}},
   {"data":{"name":"d2g"},"mark":{"type":"text","fontSize":15,"baseline":"middle","dx":-15.5},"encoding":{"x":{"field":"K","type":"nominal"},"y":{"field":"y","type":"quantitative"},"text":{"value":"†††"},"color":{"condition":{"test":"datum.K === '8'","value":"#7f00ff"},"value":"#008080"}}}
  ]},
 {"data":{"name":"f1"},
  "layer":[
   {"mark":{"type":"bar","stroke":"#000","strokeWidth":1.5},"encoding":{
    "x":{"field":"K","type":"nominal","sort":null,"scale":{"domain":["4","8","2"],"range":[481.7,651.7],"paddingInner":0.354,"paddingOuter":0.176},"axis":{"orient":"bottom","offset":-77.3,"labelAngle":0,"ticks":false,"labelPadding":65.4,"labelBaseline":"middle","labelFontSize":19,"title":["[Glc]","(mM)","[K⁺]ₒ"],"titleFontSize":18,"titleX":459.1,"titleY":8,"titleAlign":"right","titleBaseline":"top","titleLineHeight":23.5}},
    "xOffset":{"field":"glc","type":"nominal","sort":null,"scale":{"domain":["5.5","30"],"paddingInner":0.05,"paddingOuter":0}},
    "y":{"field":"v","type":"quantitative","scale":{"domain":[0,3],"range":[897.7,670.7],"nice":false},"axis":{"orient":"left","offset":-481.7,"values":[0,0.5,1,1.5,2,2.5,3],"labelExpr":"datum.value % 1 === 0 ? '' + datum.value : ''","tickSize":{"condition":{"test":"datum.value % 1 !== 0","value":3},"value":5},"labelPadding":1.7,"labelFontSize":18,"title":"Normalized Iₖ₁ at -140 mV","titleX":-39,"titleY":784.2,"titleBaseline":"middle"}},
    "fill":{"condition":{"test":"datum.glc === '30'","value":"#ff0000"},"field":"K","type":"nominal","scale":{"domain":["4","8","2"],"range":["#ffffff","#7f00ff","#008080"]},"legend":null}}},
   {"mark":{"type":"rule","strokeWidth":1.5,"color":"#000"},"encoding":{"x":{"field":"K","type":"nominal"},"xOffset":{"field":"glc","type":"nominal"},"y":{"field":"v","type":"quantitative"},"y2":{"field":"cap"}}},
   {"mark":{"type":"tick","size":7,"thickness":1.5,"color":"#000"},"encoding":{"x":{"field":"K","type":"nominal"},"xOffset":{"field":"glc","type":"nominal"},"y":{"field":"cap","type":"quantitative"}}},
   {"transform":[{"filter":"datum.lab !== ''"}],"mark":{"type":"text","angle":270,"align":"left","baseline":"middle","dx":4,"fontWeight":"bold"},"encoding":{"x":{"field":"K","type":"nominal"},"xOffset":{"field":"glc","type":"nominal"},"y":{"datum":0},"text":{"field":"lab"},"size":{"condition":{"test":"indexof(datum.lab, 'n/N') >= 0","value":13},"value":15},"color":{"condition":{"test":"datum.lab === 'Control'","value":"#000000"},"value":"#ffffff"}}},
   {"data":{"name":"fh"},"mark":{"type":"text","angle":270,"align":"left","baseline":"middle","fontWeight":"bold","color":"#000"},"encoding":{"x":{"field":"K","type":"nominal"},"xOffset":{"field":"glc","type":"nominal"},"y":{"datum":1.115},"text":{"field":"lab"},"size":{"condition":{"test":"indexof(datum.lab, 'n/N') >= 0","value":12},"value":15}}},
   {"mark":{"type":"text","angle":315,"align":"right","baseline":"middle","fontSize":17},"encoding":{"x":{"field":"K","type":"nominal"},"xOffset":{"field":"glc","type":"nominal"},"y":{"datum":-0.0925},"text":{"field":"glc"}}},
   {"mark":{"type":"rule","strokeWidth":1.5,"color":"#000"},"encoding":{"x":{"field":"K","type":"nominal"},"xOffset":{"field":"glc","type":"nominal"},"y":{"datum":0},"y2":{"datum":-0.053}}},
   {"data":{"name":"grp"},"mark":{"type":"tick","size":39,"thickness":1.5,"color":"#000"},"encoding":{"x":{"field":"K","type":"nominal"},"y":{"datum":-0.634}}},
   {"data":{"name":"f1n"},"mark":{"type":"tick","size":26,"thickness":1.5,"color":"#000"},"encoding":{"x":{"field":"K","type":"nominal"},"y":{"field":"by","type":"quantitative"}}},
   {"data":{"name":"f1n"},"mark":{"type":"text","fontSize":24,"baseline":"middle","dy":6},"encoding":{"x":{"field":"K","type":"nominal"},"y":{"field":"ty","type":"quantitative"},"text":{"field":"t"}}},
   {"data":{"name":"f1g"},"mark":{"type":"text","fontSize":15,"baseline":"middle","dx":-15.5},"encoding":{"x":{"field":"K","type":"nominal"},"y":{"field":"y","type":"quantitative"},"text":{"value":"†††"},"color":{"condition":{"test":"datum.K === '8'","value":"#7f00ff"},"value":"#008080"}}}
  ]},
 {"data":{"name":"f2"},
  "layer":[
   {"mark":{"type":"bar","stroke":"#000","strokeWidth":1.5},"encoding":{
    "x":{"field":"K","type":"nominal","sort":null,"scale":{"domain":["4","8","2"],"range":[724.3,894.3],"paddingInner":0.354,"paddingOuter":0.176},"axis":{"orient":"bottom","offset":-77.3,"labelAngle":0,"ticks":false,"labelPadding":65.4,"labelBaseline":"middle","labelFontSize":19,"title":["[Glc]","(mM)","[K⁺]ₒ"],"titleFontSize":18,"titleX":701.7,"titleY":8,"titleAlign":"right","titleBaseline":"top","titleLineHeight":23.5}},
    "xOffset":{"field":"glc","type":"nominal","sort":null,"scale":{"domain":["5.5","30"],"paddingInner":0.05,"paddingOuter":0}},
    "y":{"field":"v","type":"quantitative","scale":{"domain":[0,3],"range":[897.7,670.7],"nice":false},"axis":{"orient":"left","offset":-724.3,"values":[0,0.5,1,1.5,2,2.5,3],"labelExpr":"datum.value % 1 === 0 ? '' + datum.value : ''","tickSize":{"condition":{"test":"datum.value % 1 !== 0","value":3},"value":5},"labelPadding":1.7,"labelFontSize":18,"title":"Normalized Iₖ₁ at -60 mV","titleX":-39.3,"titleY":784.2,"titleBaseline":"middle"}},
    "fill":{"condition":{"test":"datum.glc === '30'","value":"#ff0000"},"field":"K","type":"nominal","scale":{"domain":["4","8","2"],"range":["#ffffff","#7f00ff","#008080"]},"legend":null}}},
   {"mark":{"type":"rule","strokeWidth":1.5,"color":"#000"},"encoding":{"x":{"field":"K","type":"nominal"},"xOffset":{"field":"glc","type":"nominal"},"y":{"field":"v","type":"quantitative"},"y2":{"field":"cap"}}},
   {"mark":{"type":"tick","size":7,"thickness":1.5,"color":"#000"},"encoding":{"x":{"field":"K","type":"nominal"},"xOffset":{"field":"glc","type":"nominal"},"y":{"field":"cap","type":"quantitative"}}},
   {"transform":[{"filter":"datum.lab !== ''"}],"mark":{"type":"text","angle":270,"align":"left","baseline":"middle","dx":4,"fontWeight":"bold"},"encoding":{"x":{"field":"K","type":"nominal"},"xOffset":{"field":"glc","type":"nominal"},"y":{"datum":0},"text":{"field":"lab"},"size":{"condition":{"test":"indexof(datum.lab, 'n/N') >= 0","value":13},"value":15},"color":{"condition":{"test":"datum.lab === 'Control'","value":"#000000"},"value":"#ffffff"}}},
   {"data":{"name":"fh"},"mark":{"type":"text","angle":270,"align":"left","baseline":"middle","fontWeight":"bold","color":"#000"},"encoding":{"x":{"field":"K","type":"nominal"},"xOffset":{"field":"glc","type":"nominal"},"y":{"datum":1.026},"text":{"field":"lab"},"size":{"condition":{"test":"indexof(datum.lab, 'n/N') >= 0","value":12},"value":15}}},
   {"mark":{"type":"text","angle":315,"align":"right","baseline":"middle","fontSize":17},"encoding":{"x":{"field":"K","type":"nominal"},"xOffset":{"field":"glc","type":"nominal"},"y":{"datum":-0.0925},"text":{"field":"glc"}}},
   {"mark":{"type":"rule","strokeWidth":1.5,"color":"#000"},"encoding":{"x":{"field":"K","type":"nominal"},"xOffset":{"field":"glc","type":"nominal"},"y":{"datum":0},"y2":{"datum":-0.053}}},
   {"data":{"name":"grp"},"mark":{"type":"tick","size":39,"thickness":1.5,"color":"#000"},"encoding":{"x":{"field":"K","type":"nominal"},"y":{"datum":-0.634}}},
   {"data":{"name":"f2n"},"mark":{"type":"tick","size":26,"thickness":1.5,"color":"#000"},"encoding":{"x":{"field":"K","type":"nominal"},"y":{"field":"by","type":"quantitative"}}},
   {"data":{"name":"f2n"},"mark":{"type":"text","fontSize":24,"baseline":"middle","dy":6},"encoding":{"x":{"field":"K","type":"nominal"},"y":{"field":"ty","type":"quantitative"},"text":{"field":"t"}}},
   {"data":{"name":"f2g"},"mark":{"type":"text","fontSize":15,"baseline":"middle","dx":-15.5},"encoding":{"x":{"field":"K","type":"nominal"},"y":{"field":"y","type":"quantitative"},"text":{"value":"†††"},"color":{"condition":{"test":"datum.K === '8'","value":"#7f00ff"},"value":"#008080"}}}
  ]}
]
}
